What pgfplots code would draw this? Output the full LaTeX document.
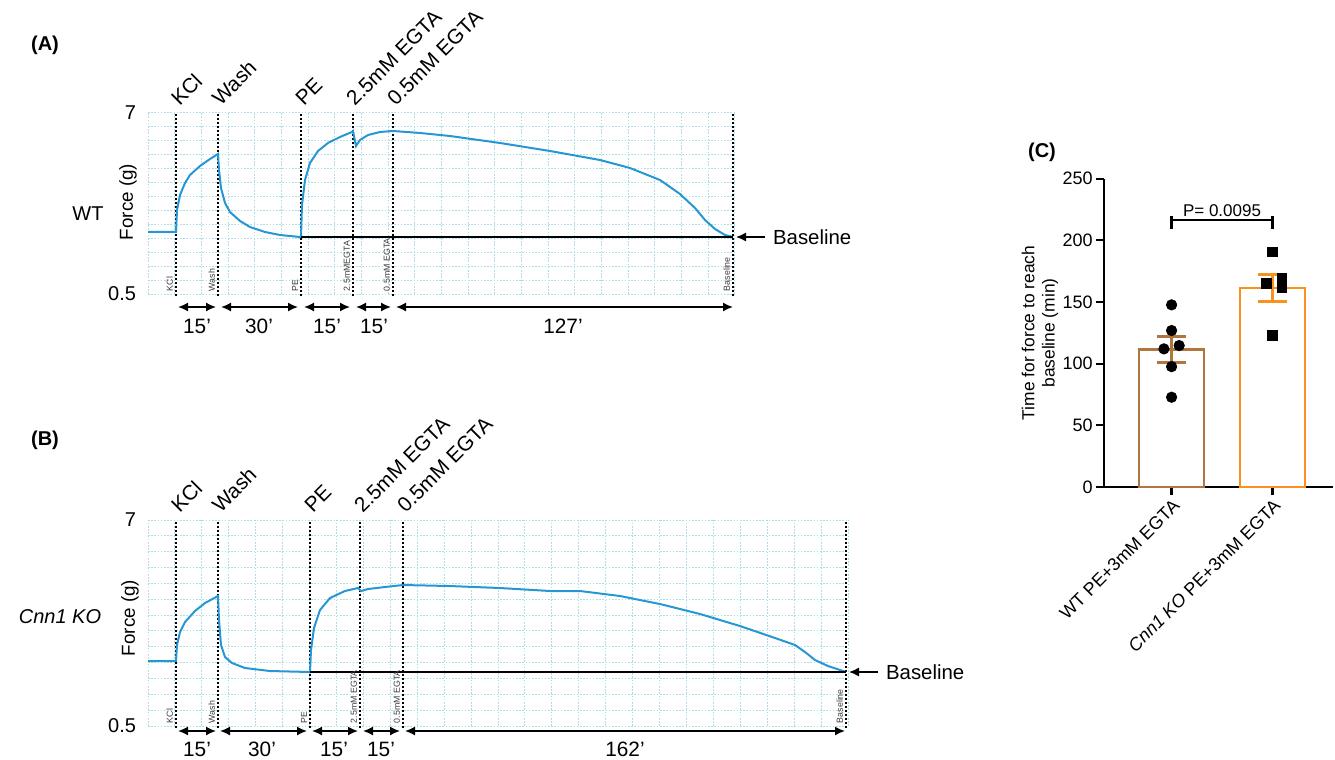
\documentclass[border=0pt]{standalone}
\usepackage{pgfplots}
\pgfplotsset{compat=1.18}
\usepackage{fontspec}
\setmainfont{Liberation Sans}
\usetikzlibrary{arrows.meta}
\definecolor{trace}{RGB}{38,150,212}
\definecolor{gridc}{RGB}{172,222,232}
\definecolor{wtc}{RGB}{176,118,64}
\definecolor{koc}{RGB}{247,146,30}
\definecolor{tinyc}{RGB}{60,60,60}

\pgfplotsset{
  tracepanel/.style={
    scale only axis, enlargelimits=false, clip=false,
    ymin=0.5, ymax=7,
    axis line style={draw=none},
    tick style={draw=none},
    ytick={0.5,1,...,7},
    yticklabels={0.5,{},{},{},{},{},{},{},{},{},{},{},{},7},
    xticklabels={},
    grid=major,
    major grid style={gridc, line width=0.5pt, dash pattern=on 0.8pt off 0.8pt},
    yticklabel style={font=\fontsize{10}{12}\selectfont, xshift=-2.5pt},
    /pgf/number format/assume math mode=true,
  }
}
\newcommand{\lab}{\fontsize{10.4}{12}\selectfont}
\newcommand{\tinylab}{\fontsize{4.4}{5}\selectfont}

\begin{document}
\begin{tikzpicture}[x=0.5pt,y=-0.5pt]
\useasboundingbox (0,0) rectangle (1335,760);

% ---------------- Panel A ----------------
\begin{axis}[tracepanel, at={(74pt,-147pt)}, anchor=south west,
  width=293.5pt, height=90.5pt, xmin=148, xmax=735, xtick={148,174.68,...,736}]
\pgfplotsinvokeforeach{176,218,301,353,393,733}{
  \draw[dash pattern=on 1pt off 1pt, line width=0.65pt] (axis cs:#1,0.42) -- (axis cs:#1,7);
}
\addplot[trace, line width=1pt] coordinates {
(148,2.727)(176,2.727)(177,3.517)(180,4.055)(185,4.486)(190,4.773)(200,5.097)(210,5.348)(218,5.528)
(219,4.953)(221,4.307)(225,3.768)(230,3.445)(240,3.122)(250,2.906)(265,2.727)(280,2.619)(300,2.547)
(301,2.547)(302,3.696)(305,4.594)(310,5.204)(318,5.635)(328,5.923)(340,6.138)(352,6.318)(353,6.354)
(356,5.815)(360,6.030)(368,6.210)(380,6.318)(393,6.354)(420,6.282)(450,6.174)(500,5.923)(550,5.635)
(600,5.312)(630,5.025)(660,4.594)(680,4.091)(695,3.588)(705,3.158)(715,2.834)(725,2.619)(733,2.547)
};
\draw[line width=1pt] (axis cs:301,2.547) -- (axis cs:733,2.547);
\end{axis}

% ---------------- Panel B ----------------
\begin{axis}[tracepanel, at={(74pt,-363pt)}, anchor=south west,
  width=350pt, height=103pt, xmin=148, xmax=848, xtick={148,174.923,...,849}]
\pgfplotsinvokeforeach{176,218,310,360,403,846}{
  \draw[dash pattern=on 1pt off 1pt, line width=0.65pt] (axis cs:#1,0.45) -- (axis cs:#1,7);
}
\addplot[trace, line width=1pt] coordinates {
(148,2.551)(176,2.551)(177,3.056)(180,3.466)(185,3.781)(195,4.129)(205,4.381)(218,4.602)
(219,3.845)(221,3.056)(225,2.677)(232,2.488)(245,2.330)(270,2.235)(310,2.204)
(311,2.898)(314,3.592)(320,4.160)(330,4.539)(345,4.760)(358,4.854)(361,4.760)(368,4.823)(385,4.886)
(403,4.949)(450,4.917)(500,4.854)(550,4.760)(580,4.760)(620,4.602)(660,4.349)(700,4.034)(740,3.655)
(775,3.277)(795,3.056)(805,2.835)(815,2.582)(828,2.393)(846,2.204)
};
\draw[line width=1pt] (axis cs:310,2.204) -- (axis cs:846,2.204);
\end{axis}

% ---------------- Panel C ----------------
\begin{axis}[at={(552pt,-243.5pt)}, anchor=south west, scale only axis,
  width=114.5pt, height=154.15pt, xmin=-0.67, xmax=1.6, ymin=0, ymax=250,
  axis x line*=bottom, axis y line*=left, axis line style={line width=1.1pt,-},
  xtick={0,1}, xticklabels={WT PE+3mM EGTA, \textit{Cnn1 KO} PE+3mM EGTA},
  ytick={0,50,...,250}, tick align=outside, major tick length=4pt,
  tick style={line width=1.1pt, black},
  xticklabel style={rotate=45, anchor=north east, font=\fontsize{9}{11}\selectfont, inner sep=1pt},
  yticklabel style={font=\fontsize{9}{11}\selectfont, inner sep=1.5pt},
  /pgf/number format/assume math mode=true, clip=false]
\addplot[ybar, bar width=32.5pt, bar shift=0pt, draw=wtc, line width=1.3pt, fill=white,
  error bars/.cd, y dir=both, y explicit,
  error bar style={wtc, line width=1.3pt},
  error mark options={wtc, rotate=90, mark size=7.25pt, line width=1.3pt}]
  coordinates {(0,111.5) +- (0,10.4)};
\addplot[ybar, bar width=32.5pt, bar shift=0pt, draw=koc, line width=1.3pt, fill=white,
  error bars/.cd, y dir=both, y explicit,
  error bar style={koc, line width=1.3pt},
  error mark options={koc, rotate=90, mark size=7.25pt, line width=1.3pt}]
  coordinates {(1,161.5) +- (0,11)};
\addplot[only marks, mark=*, mark size=2.6pt, black] coordinates {
(0,147.7)(0,126.9)(-0.076,112)(0.075,114.7)(0,97.6)(0,72.8)};
\addplot[only marks, mark=square*, mark size=2.4pt, black] coordinates {
(1,190.7)(0.937,165)(1.092,169.4)(1.092,161.8)(1,122.8)};
\draw[line width=1.1pt] (axis cs:0,209.5) -- (axis cs:0,220);
\draw[line width=1.1pt] (axis cs:1,209.5) -- (axis cs:1,220);
\draw[line width=1.1pt] (axis cs:0,216.7) -- (axis cs:1,216.7);
\node[anchor=south, font=\fontsize{8.5}{10}\selectfont, inner sep=1.5pt] at (axis cs:0.5,216.7) {P= 0.0095};
\end{axis}

% ---------------- Annotations ----------------
\node[font=\bfseries\fontsize{10}{12}\selectfont] at (45,45) {(A)};
\node[font=\bfseries\fontsize{10}{12}\selectfont] at (45,440) {(B)};
\node[font=\bfseries\fontsize{10}{12}\selectfont] at (1042,152) {(C)};

\node[font=\fontsize{10}{12}\selectfont] at (88,214) {WT};
\node[font=\itshape\fontsize{10}{12}\selectfont] at (60,617) {Cnn1 KO};
\node[rotate=90, font=\fontsize{9.4}{11}\selectfont] at (128,202) {Force (g)};
\node[rotate=90, font=\fontsize{9.4}{11}\selectfont] at (130,618) {Force (g)};
\node[rotate=90, align=center, font=\fontsize{8.7}{10.2}\selectfont] at (1040,333) {Time for force to reach\\baseline (min)};

% top rotated labels
\begin{scope}[every node/.style={rotate=45, anchor=south west, inner sep=1pt, font=\lab}]
\node at (180,110) {KCl};
\node at (221,110) {Wash};
\node at (304,110) {PE};
\node at (355,110) {2.5mM EGTA};
\node at (396,110) {0.5mM EGTA};
\node at (180,517) {KCl};
\node at (221,517) {Wash};
\node at (313,517) {PE};
\node at (363,517) {2.5mM EGTA};
\node at (406,517) {0.5mM EGTA};
\end{scope}

% tiny vertical labels
\begin{scope}[every node/.style={rotate=90, anchor=south west, inner sep=0.3pt, font=\tinylab, text=tinyc}]
\node at (174,292) {KCl};
\node at (216,292) {Wash};
\node at (299,292) {PE};
\node at (351,292) {2.5mMEGTA};
\node at (391,292) {0.5mM EGTA};
\node at (731,292) {Baseline};
\node at (174,724) {KCl};
\node at (216,724) {Wash};
\node at (308,724) {PE};
\node at (358,724) {2.5mM EGTA};
\node at (401,724) {0.5mM EGTA};
\node at (844,724) {Baseline};
\end{scope}

% interval arrows
\begin{scope}[line width=0.8pt, {Latex[length=5pt,width=4.5pt]}-{Latex[length=5pt,width=4.5pt]}]
\draw (178,307) -- (216,307);
\draw (221,307) -- (298,307);
\draw (304,307) -- (350,307);
\draw (356,307) -- (391,307);
\draw (396,307) -- (733,307);
\draw (178,731) -- (216,731);
\draw (220,731) -- (307,731);
\draw (312,731) -- (358,731);
\draw (363,731) -- (400,731);
\draw (405,731) -- (845,731);
\end{scope}
\begin{scope}[every node/.style={font=\lab}]
\node at (197,326) {15’};
\node at (259,326) {30’};
\node at (327,326) {15’};
\node at (374,326) {15’};
\node at (563,326) {127’};
\node at (197,749) {15’};
\node at (262,749) {30’};
\node at (334,749) {15’};
\node at (381,749) {15’};
\node at (625,749) {162’};
\end{scope}

% Baseline arrows
\draw[line width=0.7pt, -{Latex[length=5pt,width=4.5pt]}] (765,237) -- (736,237);
\node[anchor=west, font=\fontsize{10.2}{12}\selectfont] at (766,237) {Baseline};
\draw[line width=0.7pt, -{Latex[length=5pt,width=4.5pt]}] (878,672) -- (849,672);
\node[anchor=west, font=\fontsize{10.2}{12}\selectfont] at (879,672) {Baseline};
\end{tikzpicture}
\end{document}
